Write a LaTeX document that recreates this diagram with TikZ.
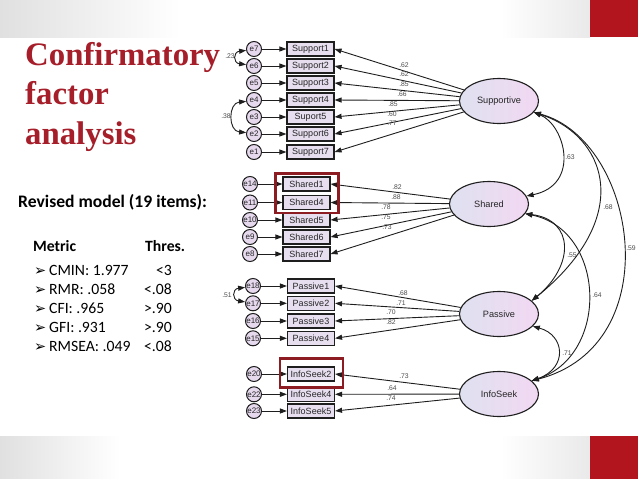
\documentclass[tikz,border=0pt]{standalone}
\usepackage{fontspec}
\setmainfont{Liberation Sans}
\newfontfamily\titlefont{Liberation Serif}
\newfontfamily\calfont{Carlito}
\newfontfamily\symfont{DejaVu Sans}
\usetikzlibrary{arrows.meta,shapes.geometric,calc}
\definecolor{titlered}{HTML}{A51E29}
\definecolor{blockred}{HTML}{B3151F}
\definecolor{hilite}{HTML}{8C1C22}
\definecolor{boxfill}{HTML}{E7DEEF}
\definecolor{circfill}{HTML}{E6D9EE}
\definecolor{ellleft}{HTML}{DFE1F0}
\definecolor{ellright}{HTML}{F2D8F2}
\definecolor{linecol}{HTML}{1E1E1E}
\definecolor{bandgray}{HTML}{E0E0E0}
\tikzset{
  ecirc/.style={circle, draw=linecol, line width=1pt, fill=circfill, minimum size=15pt, inner sep=0pt, font=\fontsize{8}{8}\selectfont, text=black!85},
  obs/.style={rectangle, draw=linecol, line width=1.1pt, fill=boxfill, minimum width=47pt, minimum height=14pt, inner sep=0pt, font=\fontsize{9}{9}\selectfont, text=black!85},
  lat/.style={ellipse, draw=linecol, line width=1.1pt, left color=ellleft, right color=ellright, minimum width=79pt, minimum height=45pt, inner sep=0pt, font=\fontsize{9.2}{10}\selectfont, text=black!85},
  load/.style={-{Triangle[length=7pt,width=5pt]}, line width=0.9pt, draw=linecol},
  cov/.style={{Triangle[length=7pt,width=5pt]}-{Triangle[length=7pt,width=5pt]}, line width=0.9pt, draw=linecol},
  num/.style={font=\fontsize{6.8}{7}\selectfont, text=black!70, inner sep=0pt},
  hl/.style={draw=hilite, line width=2.2pt},
  txt/.style={inner sep=0pt, anchor=base west},
  listtxt/.style={inner sep=0pt, font=\calfont\fontsize{15.7}{18}\selectfont},
  bullet/.style={inner sep=0pt, anchor=base west, font=\symfont\fontsize{14.5}{16}\selectfont}
}
\begin{document}
\begin{tikzpicture}[x=1pt,y=1pt]
\useasboundingbox (0,0) rectangle (638,-479);
% background
\fill[white] (0,0) rectangle (638,-479);
\shade[left color=bandgray, right color=white] (0,0) rectangle (180,-37);
\shade[left color=white, right color=bandgray!70] (500,0) rectangle (590,-37);
\shade[left color=bandgray, right color=white] (0,-436) rectangle (120,-479);
\shade[left color=white, right color=bandgray!70] (500,-436) rectangle (590,-479);
\fill[blockred] (590,0) rectangle (638,-37);
\fill[blockred] (590,-436) rectangle (638,-479);

% title
\node[txt, font=\titlefont\bfseries\fontsize{32.8}{39}\selectfont, text=titlered] (t1) at (25,-65) {Confirmatory};
\node[txt, font=\titlefont\bfseries\fontsize{32.8}{39}\selectfont, text=titlered] (t2) at (25,-104.5) {factor};
\node[txt, font=\titlefont\bfseries\fontsize{32.8}{39}\selectfont, text=titlered] (t3) at (25,-144) {analysis};

% left text
\node[txt, font=\calfont\bfseries\fontsize{17.6}{20}\selectfont] (rev) at (18,-207) {Revised model (19 items):};
\node[txt, font=\calfont\bfseries\fontsize{15.7}{18}\selectfont] (met) at (33,-251) {Metric};
\node[txt, font=\calfont\bfseries\fontsize{15.7}{18}\selectfont] (thr) at (145,-251) {Thres.};
\node[bullet] (b1) at (34,-275) {➢};
\node[bullet] (b2) at (34,-294.3) {➢};
\node[bullet] (b3) at (34,-313.3) {➢};
\node[bullet] (b4) at (34,-332.3) {➢};
\node[bullet] (b5) at (34,-351.7) {➢};
\node[listtxt, anchor=base west] (m1) at (49,-275) {CMIN: 1.977};
\node[listtxt, anchor=base west] (m2) at (49,-294.3) {RMR: .058};
\node[listtxt, anchor=base west] (m3) at (49,-313.3) {CFI: .965};
\node[listtxt, anchor=base west] (m4) at (49,-332.3) {GFI: .931};
\node[listtxt, anchor=base west] (m5) at (49,-351.7) {RMSEA: .049};
\node[listtxt, anchor=base east] (v1) at (172,-275) {<3};
\node[listtxt, anchor=base east] (v2) at (172,-294.3) {<.08};
\node[listtxt, anchor=base east] (v3) at (172,-313.3) {>.90};
\node[listtxt, anchor=base east] (v4) at (172,-332.3) {>.90};
\node[listtxt, anchor=base east] (v5) at (172,-351.7) {<.08};

% latent variables
\node[lat] (sup) at (499,-101) {Supportive};
\node[lat] (sh) at (489,-204) {Shared};
\node[lat] (pas) at (499,-314) {Passive};
\node[lat] (ifs) at (499,-394) {InfoSeek};

% Supportive group
\foreach \e/\b/\t/\y in {e7/s1/Support1/49, e6/s2/Support2/66, e5/s3/Support3/83, e4/s4/Support4/100, e3/s5/Suport5/117, e2/s6/Support6/134, e1/s7/Support7/152}{
  \node[ecirc] (\e) at (254,-\y) {\e};
  \node[obs] (\b) at (310.5,-\y) {\t};
  \draw[load] (\e) -- (\b);
  \draw[load] (sup) -- (\b.east);
}
% Shared group
\foreach \e/\b/\t/\y in {e14/h1/Shared1/184, e11/h4/Shared4/202.5, e10/h5/Shared5/220, e9/h6/Shared6/237, e8/h7/Shared7/254}{
  \node[ecirc] (\e) at (250,-\y) {\e};
  \node[obs] (\b) at (306.5,-\y) {\t};
  \draw[load] (\e) -- (\b);
  \draw[load] (sh) -- (\b.east);
}
% Passive group
\foreach \e/\b/\t/\y in {e18/p1/Passive1/286, e17/p2/Passive2/303.3, e16/p3/Passive3/321, e15/p4/Passive4/338.3}{
  \node[ecirc] (\e) at (253,-\y) {\e};
  \node[obs] (\b) at (311,-\y) {\t};
  \draw[load] (\e) -- (\b);
  \draw[load] (pas) -- (\b.east);
}
% InfoSeek group
\foreach \e/\b/\t/\y in {e20/i2/InfoSeek2/374, e22/i4/InfoSeek4/394.3, e23/i5/InfoSeek5/411}{
  \node[ecirc] (\e) at (254,-\y) {\e};
  \node[obs] (\b) at (311,-\y) {\t};
  \draw[load] (\e) -- (\b);
  \draw[load] (ifs) -- (\b.east);
}

% highlight boxes
\draw[hl] ($(h1.north west)+(-7,3)$) rectangle ($(h4.south east)+(8,-3)$);
\draw[hl] ($(i2.north west)+(-7,8)$) rectangle ($(i2.south east)+(8,-6)$);

% loading labels
\foreach \n/\v/\x/\y in {l1/.62/404/65, l2/.62/404/74, l3/.85/404/84, l4/.66/402/94, l5/.85/393/104, l6/.60/392/114, l7/.77/392/123,
  l8/.82/397/187, l9/.88/396/197, l10/.78/386/207, l11/.75/386/217, l12/.73/387/227,
  l13/.68/403/293, l14/.71/401/303, l15/.70/391/312, l16/.82/391/322,
  l17/.73/404/376, l18/.64/392/388, l19/.74/391/398}{
  \node[num] (\n) at (\x,-\y) {\v};
}

% error covariances
\draw[cov] (e7.190) .. controls (233,-52) and (233,-63) .. (e6.170);
\node[num] (c23) at (230,-56) {.23};
\draw[cov] (e4.190) .. controls (228,-103) and (228,-131) .. (e2.170);
\node[num] (c38) at (226,-116) {.38};
\draw[cov] (e18.190) .. controls (232,-289) and (232,-300) .. (e17.170);
\node[num] (c51) at (227,-295) {.51};

% latent covariances
\draw[cov] (sup.-18) .. controls (565,-125) and (581,-185) .. (sh.12);
\node[num] (c63) at (570,-157) {.63};
\draw[cov] (sup.-18) .. controls (605,-135) and (637,-215) .. (pas.22);
\node[num] (c68) at (608,-207) {.68};
\draw[cov] (sup.-18) .. controls (637,-140) and (670,-345) .. (ifs.22);
\node[num] (c59) at (631,-248) {.59};
\draw[cov] (sh.-15) .. controls (574,-220) and (575,-265) .. (pas.22);
\node[num] (c55) at (572,-255) {.55};
\draw[cov] (sh.-15) .. controls (606,-230) and (610,-355) .. (ifs.22);
\node[num] (c64) at (597,-295) {.64};
\draw[cov] (pas.-20) .. controls (565,-335) and (568,-368) .. (ifs.22);
\node[num] (c71) at (567,-353) {.71};
\end{tikzpicture}
\end{document}
